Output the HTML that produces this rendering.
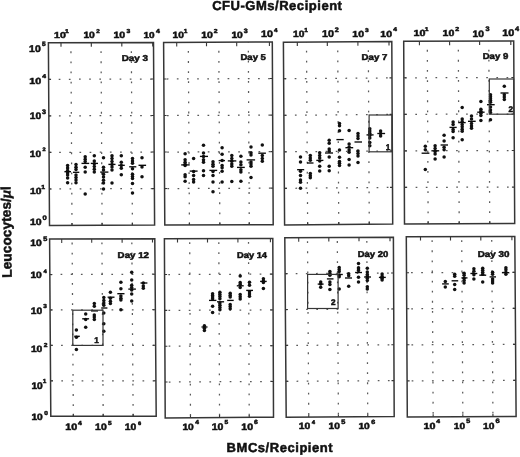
<!DOCTYPE html>
<html><head><meta charset="utf-8"><style>
html,body{margin:0;padding:0;background:#fff;}
svg{display:block;filter:grayscale(1);}
.fr{fill:none;stroke:#363636;stroke-width:1.5;stroke-linejoin:miter;}
.t{stroke:#363636;stroke-width:1.1;}
.g{stroke:#5a5a5a;stroke-width:1.25;stroke-dasharray:1.7 8.45;}
.gv{stroke:#5a5a5a;stroke-width:1.25;stroke-dasharray:1.8 8.3;}
text{font-family:"Liberation Sans",sans-serif;font-weight:bold;fill:#111;stroke:#111;stroke-width:0.5px;text-rendering:geometricPrecision;}
.day{font-size:9px;letter-spacing:0.4px;}
.ttl{font-size:13px;letter-spacing:0.5px;}
.yt{font-size:13.7px;letter-spacing:0.05px;}
.mu{font-family:"Liberation Serif",serif;font-style:italic;font-size:14.5px;}
.d{fill:#111;}
.m{stroke:#0a0a0a;stroke-width:1.35;}
.bl{font-size:8.2px;}
.bx{fill:none;stroke:#363636;stroke-width:1.2;}
</style></head><body>
<svg width="520" height="457" viewBox="0 0 520 457">
<rect width="520" height="457" fill="#fff"/>
<line x1="48.62" y1="79.34" x2="153.72" y2="79.02" class="g" stroke-dashoffset="0.05"/>
<line x1="48.84" y1="115.88" x2="153.94" y2="115.54" class="g" stroke-dashoffset="0.05"/>
<line x1="49.06" y1="152.42" x2="154.16" y2="152.06" class="g" stroke-dashoffset="0.05"/>
<line x1="49.28" y1="188.96" x2="154.38" y2="188.58" class="g" stroke-dashoffset="0.05"/>
<line x1="70.9" y1="42.74" x2="72" y2="225.41" class="gv" stroke-dashoffset="1.5"/>
<line x1="101" y1="42.65" x2="102.1" y2="225.3" class="gv" stroke-dashoffset="1.5"/>
<line x1="131.3" y1="42.56" x2="132.4" y2="225.18" class="gv" stroke-dashoffset="1.5"/>
<line x1="61" y1="42.76" x2="61.02" y2="46.78" class="t"/>
<line x1="91.3" y1="42.68" x2="91.32" y2="46.69" class="t"/>
<line x1="121.8" y1="42.59" x2="121.82" y2="46.6" class="t"/>
<line x1="152.7" y1="42.5" x2="152.72" y2="46.52" class="t"/>
<line x1="72" y1="225.41" x2="71.98" y2="222.91" class="t"/>
<line x1="102.1" y1="225.3" x2="102.08" y2="222.79" class="t"/>
<line x1="132.4" y1="225.18" x2="132.38" y2="222.68" class="t"/>
<line x1="48.62" y1="79.34" x2="51.05" y2="79.33" class="t"/>
<line x1="153.72" y1="79.02" x2="151.29" y2="79.03" class="t"/>
<line x1="48.84" y1="115.88" x2="51.27" y2="115.87" class="t"/>
<line x1="153.94" y1="115.54" x2="151.51" y2="115.55" class="t"/>
<line x1="49.06" y1="152.42" x2="51.49" y2="152.41" class="t"/>
<line x1="154.16" y1="152.06" x2="151.73" y2="152.07" class="t"/>
<line x1="49.28" y1="188.96" x2="51.71" y2="188.95" class="t"/>
<line x1="154.38" y1="188.58" x2="151.95" y2="188.59" class="t"/>
<polygon points="48.4,42.8 153.5,42.5 154.6,225.1 49.5,225.5" class="fr"/>
<line x1="163.84" y1="79.02" x2="272.48" y2="78.54" class="g" stroke-dashoffset="-2.85"/>
<line x1="164.08" y1="115.54" x2="272.66" y2="115.08" class="g" stroke-dashoffset="-2.85"/>
<line x1="164.32" y1="152.06" x2="272.84" y2="151.62" class="g" stroke-dashoffset="-2.85"/>
<line x1="164.56" y1="188.58" x2="273.02" y2="188.16" class="g" stroke-dashoffset="-2.85"/>
<line x1="188.3" y1="42.39" x2="189.43" y2="225.01" class="gv" stroke-dashoffset="1.5"/>
<line x1="218.8" y1="42.25" x2="219.85" y2="224.9" class="gv" stroke-dashoffset="1.5"/>
<line x1="248.3" y1="42.11" x2="249.27" y2="224.79" class="gv" stroke-dashoffset="1.5"/>
<line x1="176.7" y1="42.44" x2="176.73" y2="46.45" class="t"/>
<line x1="206.5" y1="42.3" x2="206.52" y2="46.32" class="t"/>
<line x1="236.7" y1="42.16" x2="236.72" y2="46.18" class="t"/>
<line x1="269.4" y1="42.01" x2="269.42" y2="46.03" class="t"/>
<line x1="189.43" y1="225.01" x2="189.42" y2="222.5" class="t"/>
<line x1="219.85" y1="224.9" x2="219.83" y2="222.39" class="t"/>
<line x1="249.27" y1="224.79" x2="249.25" y2="222.28" class="t"/>
<line x1="163.84" y1="79.02" x2="166.35" y2="79.01" class="t"/>
<line x1="272.48" y1="78.54" x2="269.97" y2="78.55" class="t"/>
<line x1="164.08" y1="115.54" x2="166.59" y2="115.53" class="t"/>
<line x1="272.66" y1="115.08" x2="270.15" y2="115.09" class="t"/>
<line x1="164.32" y1="152.06" x2="166.83" y2="152.05" class="t"/>
<line x1="272.84" y1="151.62" x2="270.33" y2="151.63" class="t"/>
<line x1="164.56" y1="188.58" x2="167.07" y2="188.57" class="t"/>
<line x1="273.02" y1="188.16" x2="270.51" y2="188.17" class="t"/>
<polygon points="163.6,42.5 272.3,42 273.2,224.7 164.8,225.1" class="fr"/>
<line x1="283.64" y1="78.74" x2="391.98" y2="77.9" class="g" stroke-dashoffset="-0.9"/>
<line x1="283.88" y1="115.28" x2="392.16" y2="114.4" class="g" stroke-dashoffset="-0.9"/>
<line x1="284.12" y1="151.82" x2="392.34" y2="150.9" class="g" stroke-dashoffset="-0.9"/>
<line x1="284.36" y1="188.36" x2="392.52" y2="187.4" class="g" stroke-dashoffset="-0.9"/>
<line x1="306.5" y1="42.03" x2="307.64" y2="224.69" class="gv" stroke-dashoffset="1.5"/>
<line x1="337.7" y1="41.8" x2="338.75" y2="224.4" class="gv" stroke-dashoffset="1.5"/>
<line x1="368.3" y1="41.57" x2="369.27" y2="224.12" class="gv" stroke-dashoffset="1.5"/>
<line x1="297.3" y1="42.1" x2="297.33" y2="46.11" class="t"/>
<line x1="327.3" y1="41.88" x2="327.32" y2="45.89" class="t"/>
<line x1="357.9" y1="41.65" x2="357.92" y2="45.66" class="t"/>
<line x1="389" y1="41.42" x2="389.02" y2="45.43" class="t"/>
<line x1="307.64" y1="224.69" x2="307.62" y2="222.18" class="t"/>
<line x1="338.75" y1="224.4" x2="338.74" y2="221.89" class="t"/>
<line x1="369.27" y1="224.12" x2="369.25" y2="221.61" class="t"/>
<line x1="283.64" y1="78.74" x2="286.15" y2="78.72" class="t"/>
<line x1="391.98" y1="77.9" x2="389.47" y2="77.92" class="t"/>
<line x1="283.88" y1="115.28" x2="286.39" y2="115.26" class="t"/>
<line x1="392.16" y1="114.4" x2="389.65" y2="114.42" class="t"/>
<line x1="284.12" y1="151.82" x2="286.63" y2="151.8" class="t"/>
<line x1="392.34" y1="150.9" x2="389.83" y2="150.92" class="t"/>
<line x1="284.36" y1="188.36" x2="286.86" y2="188.34" class="t"/>
<line x1="392.52" y1="187.4" x2="390.02" y2="187.42" class="t"/>
<polygon points="283.4,42.2 391.8,41.4 392.7,223.9 284.6,224.9" class="fr"/>
<line x1="403.86" y1="77.82" x2="513.9" y2="77.52" class="g" stroke-dashoffset="-1.15"/>
<line x1="404.02" y1="114.34" x2="514.1" y2="114.04" class="g" stroke-dashoffset="-1.15"/>
<line x1="404.18" y1="150.86" x2="514.3" y2="150.56" class="g" stroke-dashoffset="-1.15"/>
<line x1="404.34" y1="187.38" x2="514.5" y2="187.08" class="g" stroke-dashoffset="-1.15"/>
<line x1="427.3" y1="41.24" x2="428.14" y2="223.84" class="gv" stroke-dashoffset="1.5"/>
<line x1="458.3" y1="41.15" x2="459.2" y2="223.75" class="gv" stroke-dashoffset="1.5"/>
<line x1="488.8" y1="41.07" x2="489.75" y2="223.67" class="gv" stroke-dashoffset="1.5"/>
<line x1="419.4" y1="41.26" x2="419.42" y2="45.27" class="t"/>
<line x1="449.6" y1="41.17" x2="449.62" y2="45.19" class="t"/>
<line x1="479.6" y1="41.09" x2="479.62" y2="45.11" class="t"/>
<line x1="510.8" y1="41.01" x2="510.82" y2="45.02" class="t"/>
<line x1="428.14" y1="223.84" x2="428.13" y2="221.33" class="t"/>
<line x1="459.2" y1="223.75" x2="459.19" y2="221.24" class="t"/>
<line x1="489.75" y1="223.67" x2="489.74" y2="221.16" class="t"/>
<line x1="403.86" y1="77.82" x2="406.41" y2="77.81" class="t"/>
<line x1="513.9" y1="77.52" x2="511.35" y2="77.53" class="t"/>
<line x1="404.02" y1="114.34" x2="406.57" y2="114.33" class="t"/>
<line x1="514.1" y1="114.04" x2="511.55" y2="114.05" class="t"/>
<line x1="404.18" y1="150.86" x2="406.73" y2="150.85" class="t"/>
<line x1="514.3" y1="150.56" x2="511.75" y2="150.57" class="t"/>
<line x1="404.34" y1="187.38" x2="406.89" y2="187.37" class="t"/>
<line x1="514.5" y1="187.08" x2="511.95" y2="187.09" class="t"/>
<polygon points="403.7,41.3 513.7,41 514.7,223.6 404.5,223.9" class="fr"/>
<line x1="49.84" y1="274.52" x2="155.08" y2="274.22" class="g" stroke-dashoffset="-0.6"/>
<line x1="50.08" y1="309.94" x2="155.36" y2="309.74" class="g" stroke-dashoffset="-0.6"/>
<line x1="50.32" y1="345.36" x2="155.64" y2="345.26" class="g" stroke-dashoffset="-0.6"/>
<line x1="50.56" y1="380.78" x2="155.92" y2="380.78" class="g" stroke-dashoffset="-0.6"/>
<line x1="72.1" y1="239.01" x2="73.34" y2="416.22" class="gv" stroke-dashoffset="-3.6"/>
<line x1="101.9" y1="238.9" x2="103.2" y2="416.25" class="gv" stroke-dashoffset="-3.6"/>
<line x1="131.8" y1="238.79" x2="133.16" y2="416.28" class="gv" stroke-dashoffset="-3.6"/>
<line x1="61.7" y1="239.05" x2="61.73" y2="242.95" class="t"/>
<line x1="91.7" y1="238.94" x2="91.73" y2="242.84" class="t"/>
<line x1="122.1" y1="238.82" x2="122.13" y2="242.72" class="t"/>
<line x1="152.5" y1="238.71" x2="152.53" y2="242.61" class="t"/>
<line x1="73.34" y1="416.22" x2="73.33" y2="413.79" class="t"/>
<line x1="103.2" y1="416.25" x2="103.18" y2="413.81" class="t"/>
<line x1="133.16" y1="416.28" x2="133.14" y2="413.84" class="t"/>
<line x1="49.84" y1="274.52" x2="52.28" y2="274.51" class="t"/>
<line x1="155.08" y1="274.22" x2="152.64" y2="274.23" class="t"/>
<line x1="50.08" y1="309.94" x2="52.52" y2="309.94" class="t"/>
<line x1="155.36" y1="309.74" x2="152.92" y2="309.74" class="t"/>
<line x1="50.32" y1="345.36" x2="52.76" y2="345.36" class="t"/>
<line x1="155.64" y1="345.26" x2="153.2" y2="345.26" class="t"/>
<line x1="50.56" y1="380.78" x2="53" y2="380.78" class="t"/>
<line x1="155.92" y1="380.78" x2="153.48" y2="380.78" class="t"/>
<polygon points="49.6,239.1 154.8,238.7 156.2,416.3 50.8,416.2" class="fr"/>
<line x1="164.56" y1="274.54" x2="272.94" y2="274.16" class="g" stroke-dashoffset="-3.75"/>
<line x1="164.72" y1="310.38" x2="273.08" y2="309.92" class="g" stroke-dashoffset="-3.75"/>
<line x1="164.88" y1="346.22" x2="273.22" y2="345.68" class="g" stroke-dashoffset="-3.75"/>
<line x1="165.04" y1="382.06" x2="273.36" y2="381.44" class="g" stroke-dashoffset="-3.75"/>
<line x1="189.7" y1="238.63" x2="190.48" y2="417.74" class="gv" stroke-dashoffset="-3.6"/>
<line x1="218.8" y1="238.55" x2="219.55" y2="417.55" class="gv" stroke-dashoffset="-3.6"/>
<line x1="248.5" y1="238.47" x2="249.22" y2="417.36" class="gv" stroke-dashoffset="-3.6"/>
<line x1="177.5" y1="238.66" x2="177.52" y2="242.6" class="t"/>
<line x1="207.5" y1="238.58" x2="207.52" y2="242.52" class="t"/>
<line x1="237.9" y1="238.5" x2="237.92" y2="242.43" class="t"/>
<line x1="270.4" y1="238.41" x2="270.42" y2="242.34" class="t"/>
<line x1="190.48" y1="417.74" x2="190.47" y2="415.28" class="t"/>
<line x1="219.55" y1="417.55" x2="219.54" y2="415.09" class="t"/>
<line x1="249.22" y1="417.36" x2="249.21" y2="414.9" class="t"/>
<line x1="164.56" y1="274.54" x2="167.07" y2="274.53" class="t"/>
<line x1="272.94" y1="274.16" x2="270.43" y2="274.17" class="t"/>
<line x1="164.72" y1="310.38" x2="167.23" y2="310.37" class="t"/>
<line x1="273.08" y1="309.92" x2="270.57" y2="309.93" class="t"/>
<line x1="164.88" y1="346.22" x2="167.39" y2="346.21" class="t"/>
<line x1="273.22" y1="345.68" x2="270.71" y2="345.69" class="t"/>
<line x1="165.04" y1="382.06" x2="167.55" y2="382.05" class="t"/>
<line x1="273.36" y1="381.44" x2="270.85" y2="381.45" class="t"/>
<polygon points="164.4,238.7 272.8,238.4 273.5,417.2 165.2,417.9" class="fr"/>
<line x1="285.08" y1="273.68" x2="393.56" y2="273.06" class="g" stroke-dashoffset="-0.5"/>
<line x1="285.36" y1="309.56" x2="393.72" y2="308.92" class="g" stroke-dashoffset="-0.5"/>
<line x1="285.64" y1="345.44" x2="393.88" y2="344.78" class="g" stroke-dashoffset="-0.5"/>
<line x1="285.92" y1="381.32" x2="394.04" y2="380.64" class="g" stroke-dashoffset="-0.5"/>
<line x1="307.5" y1="237.67" x2="308.77" y2="417.05" class="gv" stroke-dashoffset="-3.6"/>
<line x1="337.3" y1="237.51" x2="338.41" y2="416.86" class="gv" stroke-dashoffset="-3.6"/>
<line x1="366.8" y1="237.35" x2="367.75" y2="416.67" class="gv" stroke-dashoffset="-3.6"/>
<line x1="298.7" y1="237.72" x2="298.73" y2="241.67" class="t"/>
<line x1="328.8" y1="237.56" x2="328.83" y2="241.5" class="t"/>
<line x1="359" y1="237.39" x2="359.02" y2="241.33" class="t"/>
<line x1="390" y1="237.22" x2="390.02" y2="241.16" class="t"/>
<line x1="308.77" y1="417.05" x2="308.76" y2="414.59" class="t"/>
<line x1="338.41" y1="416.86" x2="338.39" y2="414.4" class="t"/>
<line x1="367.75" y1="416.67" x2="367.73" y2="414.21" class="t"/>
<line x1="285.08" y1="273.68" x2="287.59" y2="273.67" class="t"/>
<line x1="393.56" y1="273.06" x2="391.05" y2="273.07" class="t"/>
<line x1="285.36" y1="309.56" x2="287.87" y2="309.55" class="t"/>
<line x1="393.72" y1="308.92" x2="391.21" y2="308.93" class="t"/>
<line x1="285.64" y1="345.44" x2="288.15" y2="345.42" class="t"/>
<line x1="393.88" y1="344.78" x2="391.37" y2="344.8" class="t"/>
<line x1="285.92" y1="381.32" x2="288.42" y2="381.3" class="t"/>
<line x1="394.04" y1="380.64" x2="391.54" y2="380.66" class="t"/>
<polygon points="284.8,237.8 393.4,237.2 394.2,416.5 286.2,417.2" class="fr"/>
<line x1="406.5" y1="272.74" x2="515.06" y2="272.4" class="g" stroke-dashoffset="-4.55"/>
<line x1="406.7" y1="308.78" x2="515.32" y2="308.4" class="g" stroke-dashoffset="-4.55"/>
<line x1="406.9" y1="344.82" x2="515.58" y2="344.4" class="g" stroke-dashoffset="-4.55"/>
<line x1="407.1" y1="380.86" x2="515.84" y2="380.4" class="g" stroke-dashoffset="-4.55"/>
<line x1="432.1" y1="236.63" x2="433.17" y2="416.78" class="gv" stroke-dashoffset="-3.6"/>
<line x1="461.7" y1="236.55" x2="462.85" y2="416.64" class="gv" stroke-dashoffset="-3.6"/>
<line x1="491.7" y1="236.46" x2="492.94" y2="416.51" class="gv" stroke-dashoffset="-3.6"/>
<line x1="420.5" y1="236.66" x2="420.52" y2="240.62" class="t"/>
<line x1="450.5" y1="236.58" x2="450.52" y2="240.54" class="t"/>
<line x1="480.8" y1="236.49" x2="480.83" y2="240.45" class="t"/>
<line x1="511.9" y1="236.41" x2="511.93" y2="240.36" class="t"/>
<line x1="433.17" y1="416.78" x2="433.16" y2="414.31" class="t"/>
<line x1="462.85" y1="416.64" x2="462.84" y2="414.17" class="t"/>
<line x1="492.94" y1="416.51" x2="492.92" y2="414.03" class="t"/>
<line x1="406.5" y1="272.74" x2="409.01" y2="272.73" class="t"/>
<line x1="515.06" y1="272.4" x2="512.55" y2="272.41" class="t"/>
<line x1="406.7" y1="308.78" x2="409.21" y2="308.77" class="t"/>
<line x1="515.32" y1="308.4" x2="512.81" y2="308.41" class="t"/>
<line x1="406.9" y1="344.82" x2="409.42" y2="344.81" class="t"/>
<line x1="515.58" y1="344.4" x2="513.06" y2="344.41" class="t"/>
<line x1="407.1" y1="380.86" x2="409.62" y2="380.85" class="t"/>
<line x1="515.84" y1="380.4" x2="513.32" y2="380.41" class="t"/>
<polygon points="406.3,236.7 514.8,236.4 516.1,416.4 407.3,416.9" class="fr"/>
<circle cx="67.6" cy="165.5" r="1.75" class="d"/>
<circle cx="67.6" cy="168" r="1.75" class="d"/>
<circle cx="67.6" cy="170.5" r="1.75" class="d"/>
<circle cx="67.6" cy="173" r="1.75" class="d"/>
<circle cx="67.6" cy="175" r="1.75" class="d"/>
<circle cx="67.6" cy="178" r="1.75" class="d"/>
<circle cx="67.6" cy="182.8" r="1.75" class="d"/>
<line x1="64.4" y1="171.7" x2="71" y2="171.7" class="m"/>
<circle cx="76" cy="164.5" r="1.75" class="d"/>
<circle cx="76" cy="167.2" r="1.75" class="d"/>
<circle cx="76" cy="169.5" r="1.75" class="d"/>
<circle cx="76" cy="175" r="1.75" class="d"/>
<circle cx="76" cy="177.5" r="1.75" class="d"/>
<circle cx="76" cy="180" r="1.75" class="d"/>
<circle cx="76" cy="182.8" r="1.75" class="d"/>
<line x1="73" y1="172.3" x2="79.3" y2="172.3" class="m"/>
<circle cx="85.2" cy="156.8" r="1.75" class="d"/>
<circle cx="85.2" cy="159.3" r="1.75" class="d"/>
<circle cx="85.2" cy="161.5" r="1.75" class="d"/>
<circle cx="85.2" cy="167.3" r="1.75" class="d"/>
<circle cx="85.2" cy="172.1" r="1.75" class="d"/>
<circle cx="85.2" cy="193.9" r="1.75" class="d"/>
<line x1="81.5" y1="163.4" x2="89.2" y2="163.4" class="m"/>
<circle cx="94.3" cy="155.7" r="1.75" class="d"/>
<circle cx="94.3" cy="161" r="1.75" class="d"/>
<circle cx="94.3" cy="163.8" r="1.75" class="d"/>
<circle cx="94.3" cy="166.5" r="1.75" class="d"/>
<circle cx="94.3" cy="169.3" r="1.75" class="d"/>
<circle cx="94.3" cy="172" r="1.75" class="d"/>
<line x1="90.8" y1="163.4" x2="98" y2="163.4" class="m"/>
<circle cx="103.5" cy="157.8" r="1.75" class="d"/>
<circle cx="103.5" cy="167.3" r="1.75" class="d"/>
<circle cx="103.5" cy="170" r="1.75" class="d"/>
<circle cx="103.5" cy="174.3" r="1.75" class="d"/>
<circle cx="103.5" cy="177" r="1.75" class="d"/>
<circle cx="103.5" cy="180.3" r="1.75" class="d"/>
<circle cx="103.5" cy="183" r="1.75" class="d"/>
<circle cx="103.5" cy="189" r="1.75" class="d"/>
<line x1="100.2" y1="172.1" x2="108.4" y2="172.1" class="m"/>
<circle cx="112" cy="155.7" r="1.75" class="d"/>
<circle cx="112" cy="158.4" r="1.75" class="d"/>
<circle cx="112" cy="161.5" r="1.75" class="d"/>
<circle cx="112" cy="164.5" r="1.75" class="d"/>
<circle cx="112" cy="167.1" r="1.75" class="d"/>
<circle cx="112" cy="169.9" r="1.75" class="d"/>
<circle cx="112" cy="183" r="1.75" class="d"/>
<line x1="108.4" y1="164.4" x2="115.5" y2="164.4" class="m"/>
<circle cx="121.3" cy="155.7" r="1.75" class="d"/>
<circle cx="121.3" cy="162.2" r="1.75" class="d"/>
<circle cx="121.3" cy="165.5" r="1.75" class="d"/>
<circle cx="121.3" cy="168.2" r="1.75" class="d"/>
<circle cx="121.3" cy="174.8" r="1.75" class="d"/>
<line x1="118.2" y1="165.3" x2="124.8" y2="165.3" class="m"/>
<circle cx="132.5" cy="158.4" r="1.75" class="d"/>
<circle cx="132.5" cy="161.1" r="1.75" class="d"/>
<circle cx="132.5" cy="163.3" r="1.75" class="d"/>
<circle cx="132.5" cy="168.8" r="1.75" class="d"/>
<circle cx="132.5" cy="174.3" r="1.75" class="d"/>
<circle cx="132.5" cy="176.4" r="1.75" class="d"/>
<circle cx="132.5" cy="178.6" r="1.75" class="d"/>
<circle cx="132.5" cy="183.6" r="1.75" class="d"/>
<circle cx="132.5" cy="192.9" r="1.75" class="d"/>
<line x1="129.2" y1="166.8" x2="136.3" y2="166.8" class="m"/>
<circle cx="142" cy="157.8" r="1.75" class="d"/>
<circle cx="142" cy="167.1" r="1.75" class="d"/>
<circle cx="142" cy="176.7" r="1.75" class="d"/>
<line x1="138.5" y1="165.3" x2="146.1" y2="165.3" class="m"/>
<circle cx="185.1" cy="153.8" r="1.75" class="d"/>
<circle cx="185.1" cy="159.7" r="1.75" class="d"/>
<circle cx="185.1" cy="162.3" r="1.75" class="d"/>
<circle cx="185.1" cy="164.3" r="1.75" class="d"/>
<circle cx="185.1" cy="165.6" r="1.75" class="d"/>
<circle cx="185.1" cy="174.8" r="1.75" class="d"/>
<circle cx="185.1" cy="176.8" r="1.75" class="d"/>
<circle cx="185.1" cy="181.3" r="1.75" class="d"/>
<line x1="181.2" y1="164.9" x2="189.7" y2="164.9" class="m"/>
<circle cx="193.6" cy="158.4" r="1.75" class="d"/>
<circle cx="193.6" cy="171.5" r="1.75" class="d"/>
<circle cx="193.6" cy="175.4" r="1.75" class="d"/>
<circle cx="193.6" cy="179.4" r="1.75" class="d"/>
<circle cx="193.6" cy="182" r="1.75" class="d"/>
<line x1="189.7" y1="171.1" x2="197.6" y2="171.1" class="m"/>
<circle cx="203.5" cy="145.2" r="1.75" class="d"/>
<circle cx="203.5" cy="153.1" r="1.75" class="d"/>
<circle cx="203.5" cy="156.4" r="1.75" class="d"/>
<circle cx="203.5" cy="159.7" r="1.75" class="d"/>
<circle cx="203.5" cy="162.3" r="1.75" class="d"/>
<circle cx="203.5" cy="170.8" r="1.75" class="d"/>
<circle cx="203.5" cy="175.4" r="1.75" class="d"/>
<line x1="199.9" y1="156.4" x2="208" y2="156.4" class="m"/>
<circle cx="213" cy="161.7" r="1.75" class="d"/>
<circle cx="213" cy="164.3" r="1.75" class="d"/>
<circle cx="213" cy="166.2" r="1.75" class="d"/>
<circle cx="213" cy="171.5" r="1.75" class="d"/>
<circle cx="213" cy="175.4" r="1.75" class="d"/>
<circle cx="213" cy="182" r="1.75" class="d"/>
<circle cx="213" cy="191.8" r="1.75" class="d"/>
<line x1="209.4" y1="170.4" x2="217.2" y2="170.4" class="m"/>
<circle cx="222.1" cy="147.8" r="1.75" class="d"/>
<circle cx="222.1" cy="154.2" r="1.75" class="d"/>
<circle cx="222.1" cy="160.6" r="1.75" class="d"/>
<circle cx="222.1" cy="165.6" r="1.75" class="d"/>
<circle cx="222.1" cy="167.7" r="1.75" class="d"/>
<circle cx="222.1" cy="171.2" r="1.75" class="d"/>
<circle cx="222.1" cy="181.9" r="1.75" class="d"/>
<line x1="218.6" y1="160.6" x2="225" y2="160.6" class="m"/>
<circle cx="231.8" cy="155.6" r="1.75" class="d"/>
<circle cx="231.8" cy="158.5" r="1.75" class="d"/>
<circle cx="231.8" cy="161.3" r="1.75" class="d"/>
<circle cx="231.8" cy="164.1" r="1.75" class="d"/>
<circle cx="231.8" cy="166.3" r="1.75" class="d"/>
<circle cx="231.8" cy="181.6" r="1.75" class="d"/>
<line x1="227.8" y1="160.9" x2="236.3" y2="160.9" class="m"/>
<circle cx="240.9" cy="156.3" r="1.75" class="d"/>
<circle cx="240.9" cy="162" r="1.75" class="d"/>
<circle cx="240.9" cy="164.8" r="1.75" class="d"/>
<circle cx="240.9" cy="169.8" r="1.75" class="d"/>
<circle cx="240.9" cy="172" r="1.75" class="d"/>
<circle cx="240.9" cy="181.2" r="1.75" class="d"/>
<line x1="237" y1="167.4" x2="244.8" y2="167.4" class="m"/>
<circle cx="251" cy="147.1" r="1.75" class="d"/>
<circle cx="251" cy="152.8" r="1.75" class="d"/>
<circle cx="251" cy="154.9" r="1.75" class="d"/>
<circle cx="251" cy="162" r="1.75" class="d"/>
<circle cx="251" cy="164.1" r="1.75" class="d"/>
<circle cx="251" cy="166.3" r="1.75" class="d"/>
<circle cx="251" cy="177.4" r="1.75" class="d"/>
<line x1="246.6" y1="159.9" x2="255.1" y2="159.9" class="m"/>
<circle cx="262.3" cy="145" r="1.75" class="d"/>
<circle cx="262.3" cy="155.6" r="1.75" class="d"/>
<circle cx="262.3" cy="158.5" r="1.75" class="d"/>
<circle cx="262.3" cy="161.3" r="1.75" class="d"/>
<line x1="258.3" y1="153.2" x2="265.9" y2="153.2" class="m"/>
<circle cx="300.5" cy="157" r="1.75" class="d"/>
<circle cx="300.5" cy="162" r="1.75" class="d"/>
<circle cx="300.5" cy="171.3" r="1.75" class="d"/>
<circle cx="300.5" cy="175.6" r="1.75" class="d"/>
<circle cx="300.5" cy="180" r="1.75" class="d"/>
<circle cx="300.5" cy="182.2" r="1.75" class="d"/>
<circle cx="300.5" cy="188.2" r="1.75" class="d"/>
<line x1="297.1" y1="169.7" x2="304.2" y2="169.7" class="m"/>
<circle cx="310.3" cy="155.4" r="1.75" class="d"/>
<circle cx="310.3" cy="158.1" r="1.75" class="d"/>
<circle cx="310.3" cy="160.3" r="1.75" class="d"/>
<circle cx="310.3" cy="173.4" r="1.75" class="d"/>
<circle cx="310.3" cy="175.8" r="1.75" class="d"/>
<circle cx="310.3" cy="177.8" r="1.75" class="d"/>
<line x1="307" y1="163" x2="313.5" y2="163" class="m"/>
<circle cx="319.7" cy="152.7" r="1.75" class="d"/>
<circle cx="319.7" cy="155.4" r="1.75" class="d"/>
<circle cx="319.7" cy="158.1" r="1.75" class="d"/>
<circle cx="319.7" cy="160.9" r="1.75" class="d"/>
<circle cx="319.7" cy="166.3" r="1.75" class="d"/>
<circle cx="319.7" cy="171.1" r="1.75" class="d"/>
<line x1="316.3" y1="160.4" x2="323.4" y2="160.4" class="m"/>
<circle cx="329.2" cy="140.2" r="1.75" class="d"/>
<circle cx="329.2" cy="143.3" r="1.75" class="d"/>
<circle cx="329.2" cy="149" r="1.75" class="d"/>
<circle cx="329.2" cy="151.3" r="1.75" class="d"/>
<circle cx="329.2" cy="157" r="1.75" class="d"/>
<circle cx="329.2" cy="166.2" r="1.75" class="d"/>
<circle cx="329.2" cy="170.7" r="1.75" class="d"/>
<line x1="325" y1="153" x2="333" y2="153" class="m"/>
<circle cx="339.5" cy="123.4" r="1.75" class="d"/>
<circle cx="339.5" cy="125.8" r="1.75" class="d"/>
<circle cx="339.5" cy="130.7" r="1.75" class="d"/>
<circle cx="339.5" cy="149.9" r="1.75" class="d"/>
<circle cx="339.5" cy="157.2" r="1.75" class="d"/>
<circle cx="339.5" cy="161.4" r="1.75" class="d"/>
<circle cx="339.5" cy="163.2" r="1.75" class="d"/>
<circle cx="339.5" cy="165.6" r="1.75" class="d"/>
<line x1="336.4" y1="139.6" x2="343.7" y2="139.6" class="m"/>
<circle cx="349.1" cy="130.5" r="1.75" class="d"/>
<circle cx="349.1" cy="143.9" r="1.75" class="d"/>
<circle cx="349.1" cy="146.9" r="1.75" class="d"/>
<circle cx="349.1" cy="149.9" r="1.75" class="d"/>
<circle cx="349.1" cy="152.3" r="1.75" class="d"/>
<circle cx="349.1" cy="159.6" r="1.75" class="d"/>
<circle cx="349.1" cy="165" r="1.75" class="d"/>
<line x1="345.4" y1="147.7" x2="353.2" y2="147.7" class="m"/>
<circle cx="358" cy="133.5" r="1.75" class="d"/>
<circle cx="358" cy="135.9" r="1.75" class="d"/>
<circle cx="358" cy="138.6" r="1.75" class="d"/>
<circle cx="358" cy="151" r="1.75" class="d"/>
<circle cx="358" cy="153.6" r="1.75" class="d"/>
<circle cx="358" cy="156" r="1.75" class="d"/>
<circle cx="358" cy="162.5" r="1.75" class="d"/>
<line x1="354.5" y1="142" x2="362" y2="142" class="m"/>
<circle cx="369.8" cy="128.7" r="1.75" class="d"/>
<circle cx="369.8" cy="131" r="1.75" class="d"/>
<circle cx="369.8" cy="133.3" r="1.75" class="d"/>
<circle cx="369.8" cy="135.6" r="1.75" class="d"/>
<circle cx="369.8" cy="138" r="1.75" class="d"/>
<circle cx="369.8" cy="142.5" r="1.75" class="d"/>
<circle cx="369.8" cy="145.7" r="1.75" class="d"/>
<line x1="366.5" y1="134.9" x2="373.6" y2="134.9" class="m"/>
<circle cx="380.6" cy="131" r="1.75" class="d"/>
<circle cx="380.6" cy="133.6" r="1.75" class="d"/>
<circle cx="380.6" cy="136" r="1.75" class="d"/>
<line x1="377.3" y1="133.5" x2="385.1" y2="133.5" class="m"/>
<circle cx="425.3" cy="146.2" r="1.75" class="d"/>
<circle cx="425.3" cy="149.8" r="1.75" class="d"/>
<circle cx="425.3" cy="169.4" r="1.75" class="d"/>
<line x1="421.6" y1="153.2" x2="429.4" y2="153.2" class="m"/>
<circle cx="435.1" cy="145.8" r="1.75" class="d"/>
<circle cx="435.1" cy="148.5" r="1.75" class="d"/>
<circle cx="435.1" cy="151.5" r="1.75" class="d"/>
<circle cx="435.1" cy="154.1" r="1.75" class="d"/>
<circle cx="435.1" cy="159" r="1.75" class="d"/>
<line x1="431.4" y1="150.8" x2="439.2" y2="150.8" class="m"/>
<circle cx="444.1" cy="135.3" r="1.75" class="d"/>
<circle cx="444.1" cy="141" r="1.75" class="d"/>
<circle cx="444.1" cy="147.2" r="1.75" class="d"/>
<circle cx="444.1" cy="149.8" r="1.75" class="d"/>
<circle cx="444.1" cy="156.9" r="1.75" class="d"/>
<line x1="440.6" y1="145" x2="448" y2="145" class="m"/>
<circle cx="453.1" cy="122" r="1.75" class="d"/>
<circle cx="453.1" cy="124.6" r="1.75" class="d"/>
<circle cx="453.1" cy="129.5" r="1.75" class="d"/>
<circle cx="453.1" cy="131.4" r="1.75" class="d"/>
<circle cx="453.1" cy="137.8" r="1.75" class="d"/>
<line x1="449.5" y1="127.4" x2="456.7" y2="127.4" class="m"/>
<circle cx="462.2" cy="107.5" r="1.75" class="d"/>
<circle cx="462.2" cy="119" r="1.75" class="d"/>
<circle cx="462.2" cy="121.5" r="1.75" class="d"/>
<circle cx="462.2" cy="124.4" r="1.75" class="d"/>
<circle cx="462.2" cy="126.7" r="1.75" class="d"/>
<circle cx="462.2" cy="129.2" r="1.75" class="d"/>
<circle cx="462.2" cy="131.3" r="1.75" class="d"/>
<circle cx="462.2" cy="139.8" r="1.75" class="d"/>
<line x1="458.2" y1="122.6" x2="465.7" y2="122.6" class="m"/>
<circle cx="471.5" cy="116" r="1.75" class="d"/>
<circle cx="471.5" cy="119" r="1.75" class="d"/>
<circle cx="471.5" cy="123.6" r="1.75" class="d"/>
<circle cx="471.5" cy="125.9" r="1.75" class="d"/>
<circle cx="471.5" cy="128.2" r="1.75" class="d"/>
<line x1="468" y1="121.3" x2="475.7" y2="121.3" class="m"/>
<circle cx="480.9" cy="101.5" r="1.75" class="d"/>
<circle cx="480.9" cy="109.2" r="1.75" class="d"/>
<circle cx="480.9" cy="111.2" r="1.75" class="d"/>
<circle cx="480.9" cy="113.2" r="1.75" class="d"/>
<circle cx="480.9" cy="115.5" r="1.75" class="d"/>
<circle cx="480.9" cy="120.6" r="1.75" class="d"/>
<line x1="477.2" y1="112.2" x2="484.6" y2="112.2" class="m"/>
<circle cx="490.5" cy="94.8" r="1.75" class="d"/>
<circle cx="490.5" cy="96.8" r="1.75" class="d"/>
<circle cx="490.5" cy="98.7" r="1.75" class="d"/>
<circle cx="490.5" cy="100.6" r="1.75" class="d"/>
<circle cx="490.5" cy="102.2" r="1.75" class="d"/>
<circle cx="490.5" cy="106.9" r="1.75" class="d"/>
<circle cx="490.5" cy="110" r="1.75" class="d"/>
<circle cx="490.5" cy="112.5" r="1.75" class="d"/>
<circle cx="490.5" cy="119.7" r="1.75" class="d"/>
<line x1="487" y1="104.7" x2="494.7" y2="104.7" class="m"/>
<circle cx="504.3" cy="86.3" r="1.75" class="d"/>
<circle cx="504.3" cy="94.8" r="1.75" class="d"/>
<circle cx="504.3" cy="97" r="1.75" class="d"/>
<circle cx="504.3" cy="99.4" r="1.75" class="d"/>
<line x1="500.5" y1="93" x2="508.5" y2="93" class="m"/>
<circle cx="76.4" cy="329.9" r="1.75" class="d"/>
<circle cx="76.4" cy="337.3" r="1.75" class="d"/>
<circle cx="76.4" cy="349.4" r="1.75" class="d"/>
<line x1="74.2" y1="336.3" x2="79.8" y2="336.3" class="m"/>
<circle cx="85.7" cy="314" r="1.75" class="d"/>
<circle cx="85.7" cy="319.6" r="1.75" class="d"/>
<circle cx="85.7" cy="327.3" r="1.75" class="d"/>
<line x1="82.2" y1="318.8" x2="89.1" y2="318.8" class="m"/>
<circle cx="94.3" cy="303.6" r="1.75" class="d"/>
<circle cx="94.3" cy="306.3" r="1.75" class="d"/>
<circle cx="94.3" cy="315" r="1.75" class="d"/>
<circle cx="94.3" cy="317" r="1.75" class="d"/>
<circle cx="94.3" cy="319.4" r="1.75" class="d"/>
<line x1="91" y1="310.9" x2="98" y2="310.9" class="m"/>
<circle cx="103.8" cy="297.5" r="1.75" class="d"/>
<circle cx="103.8" cy="300.6" r="1.75" class="d"/>
<circle cx="103.8" cy="302.9" r="1.75" class="d"/>
<circle cx="103.8" cy="305.2" r="1.75" class="d"/>
<circle cx="103.8" cy="313.1" r="1.75" class="d"/>
<circle cx="103.8" cy="323.8" r="1.75" class="d"/>
<circle cx="103.8" cy="331.3" r="1.75" class="d"/>
<line x1="101.2" y1="308" x2="107.4" y2="308" class="m"/>
<circle cx="110.4" cy="292.2" r="1.75" class="d"/>
<circle cx="110.4" cy="298.3" r="1.75" class="d"/>
<circle cx="110.4" cy="301.3" r="1.75" class="d"/>
<circle cx="110.4" cy="303.6" r="1.75" class="d"/>
<line x1="107.6" y1="297.2" x2="114.5" y2="297.2" class="m"/>
<circle cx="120.9" cy="282.2" r="1.75" class="d"/>
<circle cx="120.9" cy="288.8" r="1.75" class="d"/>
<circle cx="120.9" cy="296" r="1.75" class="d"/>
<circle cx="120.9" cy="298.3" r="1.75" class="d"/>
<circle cx="120.9" cy="300.1" r="1.75" class="d"/>
<circle cx="120.9" cy="309.8" r="1.75" class="d"/>
<line x1="117.3" y1="293.7" x2="124.5" y2="293.7" class="m"/>
<circle cx="131.7" cy="272.3" r="1.75" class="d"/>
<circle cx="131.7" cy="279.9" r="1.75" class="d"/>
<circle cx="131.7" cy="285.3" r="1.75" class="d"/>
<circle cx="131.7" cy="287.6" r="1.75" class="d"/>
<circle cx="131.7" cy="289.9" r="1.75" class="d"/>
<circle cx="131.7" cy="294" r="1.75" class="d"/>
<circle cx="131.7" cy="301" r="1.75" class="d"/>
<line x1="128.3" y1="289.1" x2="135.9" y2="289.1" class="m"/>
<circle cx="143.3" cy="283" r="1.75" class="d"/>
<circle cx="143.3" cy="286" r="1.75" class="d"/>
<circle cx="143.3" cy="288.3" r="1.75" class="d"/>
<line x1="140.5" y1="283" x2="147.4" y2="283" class="m"/>
<circle cx="204.4" cy="325.8" r="1.75" class="d"/>
<circle cx="204.4" cy="328.2" r="1.75" class="d"/>
<circle cx="204.4" cy="330.5" r="1.75" class="d"/>
<line x1="201.5" y1="327" x2="207.5" y2="327" class="m"/>
<circle cx="212.6" cy="293.8" r="1.75" class="d"/>
<circle cx="212.6" cy="295.5" r="1.75" class="d"/>
<circle cx="212.6" cy="297.1" r="1.75" class="d"/>
<circle cx="212.6" cy="298.8" r="1.75" class="d"/>
<circle cx="212.6" cy="306.3" r="1.75" class="d"/>
<circle cx="212.6" cy="312.5" r="1.75" class="d"/>
<line x1="209" y1="300.4" x2="216.4" y2="300.4" class="m"/>
<circle cx="219.9" cy="292.2" r="1.75" class="d"/>
<circle cx="219.9" cy="294.4" r="1.75" class="d"/>
<circle cx="219.9" cy="296.6" r="1.75" class="d"/>
<circle cx="219.9" cy="298.8" r="1.75" class="d"/>
<circle cx="219.9" cy="303.1" r="1.75" class="d"/>
<circle cx="219.9" cy="305.3" r="1.75" class="d"/>
<circle cx="219.9" cy="307.5" r="1.75" class="d"/>
<circle cx="219.9" cy="309.7" r="1.75" class="d"/>
<line x1="217" y1="301.8" x2="224.1" y2="301.8" class="m"/>
<circle cx="230.2" cy="293.3" r="1.75" class="d"/>
<circle cx="230.2" cy="295.3" r="1.75" class="d"/>
<circle cx="230.2" cy="297.1" r="1.75" class="d"/>
<circle cx="230.2" cy="304.5" r="1.75" class="d"/>
<circle cx="230.2" cy="306.6" r="1.75" class="d"/>
<circle cx="230.2" cy="308.7" r="1.75" class="d"/>
<line x1="227.2" y1="300.4" x2="233.7" y2="300.4" class="m"/>
<circle cx="240.2" cy="276" r="1.75" class="d"/>
<circle cx="240.2" cy="282.5" r="1.75" class="d"/>
<circle cx="240.2" cy="284.2" r="1.75" class="d"/>
<circle cx="240.2" cy="287.5" r="1.75" class="d"/>
<circle cx="240.2" cy="294.6" r="1.75" class="d"/>
<circle cx="240.2" cy="296.8" r="1.75" class="d"/>
<circle cx="240.2" cy="299" r="1.75" class="d"/>
<line x1="236.8" y1="285.8" x2="243.7" y2="285.8" class="m"/>
<circle cx="249.5" cy="282.3" r="1.75" class="d"/>
<circle cx="249.5" cy="285.3" r="1.75" class="d"/>
<circle cx="249.5" cy="291.8" r="1.75" class="d"/>
<circle cx="249.5" cy="294" r="1.75" class="d"/>
<circle cx="249.5" cy="296.2" r="1.75" class="d"/>
<line x1="246.2" y1="290.4" x2="253" y2="290.4" class="m"/>
<circle cx="263.4" cy="278.7" r="1.75" class="d"/>
<circle cx="263.4" cy="280.9" r="1.75" class="d"/>
<circle cx="263.4" cy="282.5" r="1.75" class="d"/>
<circle cx="263.4" cy="288.5" r="1.75" class="d"/>
<line x1="260.1" y1="281.4" x2="266.7" y2="281.4" class="m"/>
<circle cx="320.7" cy="281.9" r="1.75" class="d"/>
<circle cx="320.7" cy="283.9" r="1.75" class="d"/>
<circle cx="320.7" cy="287.2" r="1.75" class="d"/>
<line x1="317.7" y1="284.1" x2="323.6" y2="284.1" class="m"/>
<circle cx="329.9" cy="271.4" r="1.75" class="d"/>
<circle cx="329.9" cy="273.4" r="1.75" class="d"/>
<circle cx="329.9" cy="275.3" r="1.75" class="d"/>
<circle cx="329.9" cy="281.9" r="1.75" class="d"/>
<circle cx="329.9" cy="284.5" r="1.75" class="d"/>
<circle cx="329.9" cy="289.4" r="1.75" class="d"/>
<line x1="326.9" y1="278.9" x2="333.5" y2="278.9" class="m"/>
<circle cx="339.2" cy="267.6" r="1.75" class="d"/>
<circle cx="339.2" cy="269.6" r="1.75" class="d"/>
<circle cx="339.2" cy="271.4" r="1.75" class="d"/>
<circle cx="339.2" cy="275" r="1.75" class="d"/>
<circle cx="339.2" cy="276.7" r="1.75" class="d"/>
<circle cx="339.2" cy="288.9" r="1.75" class="d"/>
<line x1="335.5" y1="274.5" x2="342.8" y2="274.5" class="m"/>
<circle cx="348.7" cy="273.7" r="1.75" class="d"/>
<circle cx="348.7" cy="275.8" r="1.75" class="d"/>
<circle cx="348.7" cy="286.3" r="1.75" class="d"/>
<line x1="345" y1="278" x2="352" y2="278" class="m"/>
<circle cx="358.5" cy="263.5" r="1.75" class="d"/>
<circle cx="358.5" cy="267.7" r="1.75" class="d"/>
<circle cx="358.5" cy="269" r="1.75" class="d"/>
<circle cx="358.5" cy="270.5" r="1.75" class="d"/>
<circle cx="358.5" cy="277.2" r="1.75" class="d"/>
<circle cx="358.5" cy="282" r="1.75" class="d"/>
<line x1="355.1" y1="272.5" x2="362" y2="272.5" class="m"/>
<circle cx="367.3" cy="268.2" r="1.75" class="d"/>
<circle cx="367.3" cy="271.9" r="1.75" class="d"/>
<circle cx="367.3" cy="274.6" r="1.75" class="d"/>
<circle cx="367.3" cy="276.2" r="1.75" class="d"/>
<circle cx="367.3" cy="278.3" r="1.75" class="d"/>
<circle cx="367.3" cy="280.4" r="1.75" class="d"/>
<circle cx="367.3" cy="286.7" r="1.75" class="d"/>
<circle cx="367.3" cy="288.9" r="1.75" class="d"/>
<line x1="364.1" y1="277" x2="371" y2="277" class="m"/>
<circle cx="382.1" cy="274" r="1.75" class="d"/>
<circle cx="382.1" cy="276.2" r="1.75" class="d"/>
<circle cx="382.1" cy="278.3" r="1.75" class="d"/>
<circle cx="382.1" cy="279.9" r="1.75" class="d"/>
<line x1="378.9" y1="277.4" x2="385.8" y2="277.4" class="m"/>
<circle cx="445.3" cy="281.6" r="1.75" class="d"/>
<circle cx="445.3" cy="287" r="1.75" class="d"/>
<line x1="442.1" y1="283.9" x2="448.8" y2="283.9" class="m"/>
<circle cx="454.7" cy="274.2" r="1.75" class="d"/>
<circle cx="454.7" cy="276.2" r="1.75" class="d"/>
<circle cx="454.7" cy="284.6" r="1.75" class="d"/>
<circle cx="454.7" cy="289.5" r="1.75" class="d"/>
<line x1="451.6" y1="280.8" x2="458.2" y2="280.8" class="m"/>
<circle cx="464.1" cy="273.2" r="1.75" class="d"/>
<circle cx="464.1" cy="275.2" r="1.75" class="d"/>
<circle cx="464.1" cy="278.2" r="1.75" class="d"/>
<circle cx="464.1" cy="280.6" r="1.75" class="d"/>
<circle cx="464.1" cy="283.1" r="1.75" class="d"/>
<line x1="461.4" y1="277.9" x2="467.5" y2="277.9" class="m"/>
<circle cx="473.9" cy="268.8" r="1.75" class="d"/>
<circle cx="473.9" cy="271.3" r="1.75" class="d"/>
<circle cx="473.9" cy="274.7" r="1.75" class="d"/>
<circle cx="473.9" cy="279.1" r="1.75" class="d"/>
<line x1="470.4" y1="273.5" x2="477.3" y2="273.5" class="m"/>
<circle cx="482.7" cy="268.3" r="1.75" class="d"/>
<circle cx="482.7" cy="270.3" r="1.75" class="d"/>
<circle cx="482.7" cy="272.2" r="1.75" class="d"/>
<circle cx="482.7" cy="274.2" r="1.75" class="d"/>
<circle cx="482.7" cy="282.1" r="1.75" class="d"/>
<line x1="479.3" y1="275.2" x2="486.2" y2="275.2" class="m"/>
<circle cx="492.6" cy="272.2" r="1.75" class="d"/>
<circle cx="492.6" cy="274.2" r="1.75" class="d"/>
<circle cx="492.6" cy="279.1" r="1.75" class="d"/>
<circle cx="492.6" cy="281.1" r="1.75" class="d"/>
<circle cx="492.6" cy="283.1" r="1.75" class="d"/>
<line x1="489.6" y1="276.9" x2="496" y2="276.9" class="m"/>
<circle cx="505.9" cy="267.8" r="1.75" class="d"/>
<circle cx="505.9" cy="269.8" r="1.75" class="d"/>
<circle cx="505.9" cy="272.2" r="1.75" class="d"/>
<circle cx="505.9" cy="274.2" r="1.75" class="d"/>
<line x1="501.9" y1="272.7" x2="509.3" y2="272.7" class="m"/>
<rect x="369.1" y="115" width="22.8" height="36.8" class="bx"/>
<rect x="489.3" y="79" width="24.4" height="35.2" class="bx"/>
<rect x="72.8" y="310.2" width="30.2" height="35.2" class="bx"/>
<rect x="307.6" y="274.4" width="30.5" height="34.1" class="bx"/>
<text transform="translate(54.06,37.55) scale(1.231,1)" font-size="8.57">10</text>
<text transform="translate(65.12,32.55) scale(1.231,1)" font-size="5.57">1</text>
<text transform="translate(83.38,37.55) scale(1.132,1)" font-size="9.14">10</text>
<text transform="translate(96.13,32.55) scale(1.132,1)" font-size="5.57">2</text>
<text transform="translate(113.46,37.55) scale(1.154,1)" font-size="9.14">10</text>
<text transform="translate(126.48,32.55) scale(1.154,1)" font-size="5.86">3</text>
<text transform="translate(143.5,37.55) scale(1.172,1)" font-size="8.57">10</text>
<text transform="translate(156.05,32.75) scale(1.172,1)" font-size="5.86">4</text>
<text transform="translate(172.58,37.55) scale(1.121,1)" font-size="9.14">10</text>
<text transform="translate(183.67,32.55) scale(1.121,1)" font-size="5.86">1</text>
<text transform="translate(201.16,37.55) scale(1.154,1)" font-size="9.14">10</text>
<text transform="translate(213.81,32.55) scale(1.154,1)" font-size="5.86">2</text>
<text transform="translate(231.38,37.55) scale(1.132,1)" font-size="9.14">10</text>
<text transform="translate(243.87,32.55) scale(1.132,1)" font-size="6.29">3</text>
<text transform="translate(261.05,37.35) scale(1.140,1)" font-size="9.43">10</text>
<text transform="translate(274.05,31.85) scale(1.140,1)" font-size="5.57">4</text>
<text transform="translate(293.08,37.15) scale(1.121,1)" font-size="9.14">10</text>
<text transform="translate(304.37,31.85) scale(1.121,1)" font-size="5.86">1</text>
<text transform="translate(322.05,37.15) scale(1.090,1)" font-size="9.86">10</text>
<text transform="translate(334.8,32.05) scale(1.090,1)" font-size="6.57">2</text>
<text transform="translate(352.37,36.75) scale(1.180,1)" font-size="8.86">10</text>
<text transform="translate(365.09,31.65) scale(1.180,1)" font-size="5.57">3</text>
<text transform="translate(380.37,36.55) scale(1.180,1)" font-size="8.86">10</text>
<text transform="translate(393.35,31.45) scale(1.180,1)" font-size="5.57">4</text>
<text transform="translate(413.45,36.25) scale(1.213,1)" font-size="8.86">10</text>
<text transform="translate(424.77,31.25) scale(1.213,1)" font-size="5.57">1</text>
<text transform="translate(442.56,36.25) scale(1.191,1)" font-size="8.86">10</text>
<text transform="translate(455.21,31.45) scale(1.191,1)" font-size="5.86">2</text>
<text transform="translate(472.58,36.55) scale(1.104,1)" font-size="9.29">10</text>
<text transform="translate(485.57,31.45) scale(1.104,1)" font-size="6.57">3</text>
<text transform="translate(502.25,36.25) scale(1.133,1)" font-size="9.57">10</text>
<text transform="translate(515.04,31.15) scale(1.133,1)" font-size="6.57">4</text>
<text transform="translate(29.07,51.55) scale(1.076,1)" font-size="9.71">10</text>
<text transform="translate(41.95,46.25) scale(1.076,1)" font-size="6.14">5</text>
<text transform="translate(29.25,83.55) scale(1.213,1)" font-size="8.86">10</text>
<text transform="translate(42.35,78.45) scale(1.213,1)" font-size="5.57">4</text>
<text transform="translate(29.78,119.25) scale(1.087,1)" font-size="9.43">10</text>
<text transform="translate(41.97,114.25) scale(1.087,1)" font-size="6.57">3</text>
<text transform="translate(29.8,157.05) scale(1.099,1)" font-size="9.14">10</text>
<text transform="translate(42.45,151.25) scale(1.099,1)" font-size="5.14">2</text>
<text transform="translate(29.98,193.95) scale(1.157,1)" font-size="8.86">10</text>
<text transform="translate(41.16,188.65) scale(1.157,1)" font-size="5.86">1</text>
<text transform="translate(29.96,225.15) scale(1.154,1)" font-size="9.14">10</text>
<text transform="translate(42.55,220.05) scale(1.154,1)" font-size="6.57">0</text>
<text transform="translate(30.18,246.25) scale(1.114,1)" font-size="9.29">10</text>
<text transform="translate(43.13,241.15) scale(1.114,1)" font-size="6.57">5</text>
<text transform="translate(30.38,278.45) scale(1.132,1)" font-size="9.14">10</text>
<text transform="translate(43.46,272.65) scale(1.132,1)" font-size="5.14">4</text>
<text transform="translate(30.68,313.55) scale(1.104,1)" font-size="9.29">10</text>
<text transform="translate(43.19,308.45) scale(1.104,1)" font-size="5.86">3</text>
<text transform="translate(30.88,351.55) scale(1.132,1)" font-size="9.14">10</text>
<text transform="translate(43.82,346.55) scale(1.132,1)" font-size="5.86">2</text>
<text transform="translate(31.38,388.55) scale(1.071,1)" font-size="9.57">10</text>
<text transform="translate(42.74,383.25) scale(1.071,1)" font-size="6">1</text>
<text transform="translate(31.38,419.55) scale(1.121,1)" font-size="9.14">10</text>
<text transform="translate(44.19,414.55) scale(1.121,1)" font-size="5.86">0</text>
<text transform="translate(65.25,430.25) scale(1.157,1)" font-size="9.29">10</text>
<text transform="translate(78.05,424.65) scale(1.157,1)" font-size="5.86">4</text>
<text transform="translate(95.07,430.25) scale(1.125,1)" font-size="9.29">10</text>
<text transform="translate(107.95,424.65) scale(1.125,1)" font-size="5.86">5</text>
<text transform="translate(124.78,430.25) scale(1.114,1)" font-size="9.29">10</text>
<text transform="translate(137.95,424.65) scale(1.114,1)" font-size="5.14">6</text>
<text transform="translate(182.38,429.75) scale(1.121,1)" font-size="9.14">10</text>
<text transform="translate(195.15,424.45) scale(1.121,1)" font-size="5.86">4</text>
<text transform="translate(211.66,429.75) scale(1.102,1)" font-size="9.57">10</text>
<text transform="translate(224.55,424.25) scale(1.102,1)" font-size="6">5</text>
<text transform="translate(241.36,429.55) scale(1.136,1)" font-size="9.29">10</text>
<text transform="translate(254.11,424.25) scale(1.136,1)" font-size="6">6</text>
<text transform="translate(298.78,429.25) scale(1.132,1)" font-size="9.14">10</text>
<text transform="translate(311.86,423.75) scale(1.132,1)" font-size="5.29">4</text>
<text transform="translate(328.58,429.25) scale(1.121,1)" font-size="9.14">10</text>
<text transform="translate(341.23,424.25) scale(1.121,1)" font-size="6.57">5</text>
<text transform="translate(358.38,429.15) scale(1.157,1)" font-size="8.86">10</text>
<text transform="translate(371.2,424.05) scale(1.157,1)" font-size="6.14">6</text>
<text transform="translate(423.45,428.55) scale(1.213,1)" font-size="8.86">10</text>
<text transform="translate(436.35,423.45) scale(1.213,1)" font-size="5.57">4</text>
<text transform="translate(453.8,428.55) scale(1.135,1)" font-size="8.86">10</text>
<text transform="translate(466.24,423.25) scale(1.135,1)" font-size="6.29">5</text>
<text transform="translate(483.08,428.55) scale(1.157,1)" font-size="8.86">10</text>
<text transform="translate(495.48,423.45) scale(1.157,1)" font-size="6.57">6</text>
<text transform="translate(121.71,60.55) scale(1.160,1)" font-size="8.5">Day 3</text>
<text transform="translate(240.43,59.85) scale(1.124,1)" font-size="8.5">Day 5</text>
<text transform="translate(361.52,59.55) scale(1.142,1)" font-size="8.5">Day 7</text>
<text transform="translate(482.63,58.95) scale(1.128,1)" font-size="8.5">Day 9</text>
<text transform="translate(117.62,258.15) scale(1.146,1)" font-size="8.5">Day 12</text>
<text transform="translate(237.05,257.65) scale(1.093,1)" font-size="8.5">Day 14</text>
<text transform="translate(357.63,256.95) scale(1.116,1)" font-size="8.5">Day 20</text>
<text transform="translate(477.71,256.75) scale(1.158,1)" font-size="8.5">Day 30</text>
<text transform="translate(212.13,10.45)" font-size="13" letter-spacing="0.529">CFU-GMs/Recipient</text>
<text transform="translate(226.6,452.45)" font-size="13" letter-spacing="0.542">BMCs/Recipient</text>
<text transform="translate(11.7,277.7) rotate(-90.8)" class="yt">Leucocytes/<tspan class="mu">μ</tspan>l</text>
<text x="385.8" y="149.7" class="bl">1</text>
<text x="508.4" y="111.5" class="bl">2</text>
<text x="94.2" y="342.8" class="bl">1</text>
<text x="331.1" y="304.7" class="bl">2</text>
</svg>
</body></html>
